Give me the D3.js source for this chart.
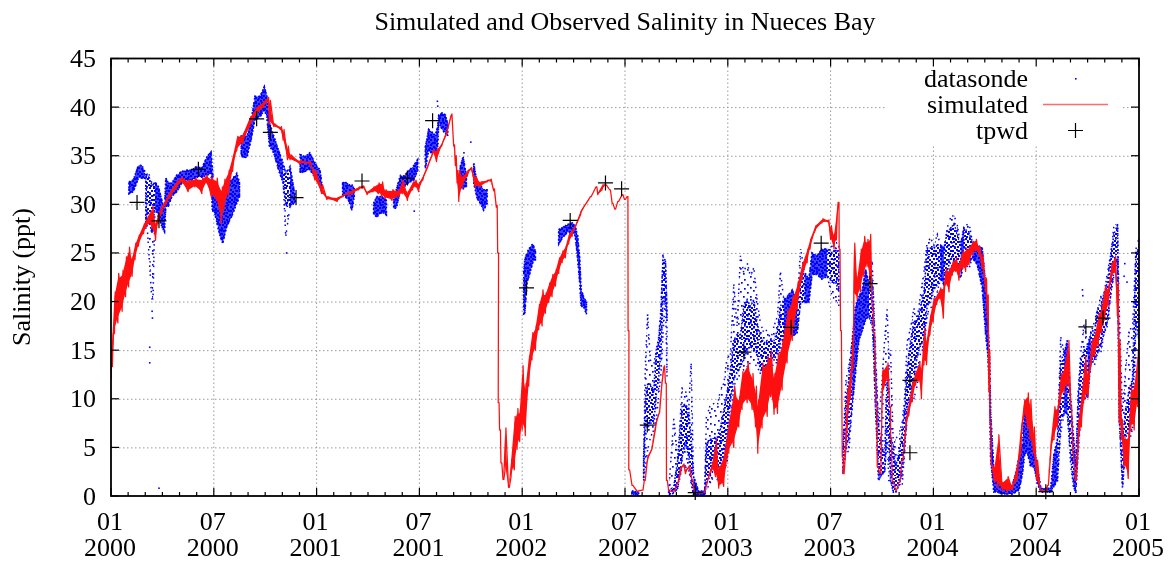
<!DOCTYPE html>
<html><head><meta charset="utf-8">
<script src="https://cdnjs.cloudflare.com/ajax/libs/d3/7.8.5/d3.min.js"></script>
<style>html,body{margin:0;padding:0;background:#fff}svg{display:block;filter:blur(0.35px)}</style>
</head><body><div id="chart"></div>
<script>
// x unit: months since 2000-01; y unit: salinity (ppt)
const chartTitle = "Simulated and Observed Salinity in Nueces Bay";
const yLabel = "Salinity (ppt)";
const yTicks = [0,5,10,15,20,25,30,35,40,45];
const xMajorMonths = [0,6,12,18,24,30,36,42,48,54,60];
const xTickMonth = ["01","07","01","07","01","07","01","07","01","07","01"];
const xTickYear = ["2000","2000","2001","2001","2002","2002","2003","2003","2004","2004","2005"];
const legendNames = ["datasonde","simulated","tpwd"];

// [month, low, high]
const simulatedRanges = [
[0,12,15],[0.08,13.3,16.7],[0.2,16.7,21],[0.4,17.8,22.9],[0.65,19,23.2],[0.85,20.5,24.6],[1.03,21.5,25.6],[1.23,22.6,24.6],[1.4,24.3,26],[1.6,25.7,26.8],[1.9,27,28],[2.2,28,29],[2.4,27.5,29.8],[2.6,26.3,28.2],[2.75,28,29],[2.95,29,29.8],[3.2,30,30.6],[3.5,30.8,31.5],[3.8,31.6,32.3],[4.1,32.3,32.8],[4.5,31.3,32.5],[4.9,31.8,32.7],[5.3,31.1,32.7],[5.55,32.2,33],[5.85,30.8,32.8],[6.15,30.4,32.7],[6.45,28,31.8],[6.6,29.5,32.6],[6.85,31,33.5],[7.1,33.4,35],[7.35,35.6,37],[7.7,36.3,37.3],[8.1,38,39],[8.5,39.2,40],[8.9,40,40.6],[9.15,40.6,41],[9.25,38.3,40.7],[9.5,38,38.3],[9.9,37.7,38],[10.05,36.6,37.7],[10.3,34.6,36],[10.45,34.6,35.1],[11,34.2,34.5],[11.6,34.2,34.4],[11.9,32.5,33.5],[12.3,31.1,32],[12.6,30.5,30.8],[13.2,30.3,30.7],[13.55,30.8,31],[14.1,31.1,31.5],[14.45,31.5,31.8],[14.7,31.7,31.9],[14.95,31,31.3],[15.3,31.3,31.8],[15.6,31.1,32.2],[15.8,30.8,32.3],[16,30.6,31.5],[16.4,30.4,31.5],[16.8,30.8,31.5],[17,31.1,32.5],[17.3,30.4,31.3],[17.6,31.5,32.3],[17.75,31.8,32.5],[17.95,31.3,32.2],[18.2,32.5,32.9],[18.5,33.9,34.2],[18.8,35.3,35.6],[19,34.4,35.6],[19.3,36,36.3],[19.6,37.3,37.7],[19.85,39.1,39.3],[20,36,36.1],[20.1,34,35],[20.2,32.2,33.5],[20.3,30.3,33.5],[20.5,31.8,32.9],[20.8,32.9,33.5],[21,33.6,33.8],[21.25,31.8,32.9],[21.55,31.8,32.3],[21.95,32.3,32.5],[22.14,32.4,32.6],[22.33,31.4,31.6],[22.49,29.7,29.9],[22.57,25,25],[22.6,9.6,9.6],[22.68,6.8,6.8],[22.76,3.4,3.4],[22.88,1.7,1.7],[23,2.7,7],[23.2,0.9,0.9],[23.35,2,3.8],[23.54,2.7,8.2],[23.7,4.8,9],[23.85,5.6,8.9],[24,6.8,13.4],[24.18,6.2,11.6],[24.38,11.3,14.4],[24.57,14,16.8],[24.77,15,17.5],[24.96,17.1,19.7],[25.16,17.5,21.2],[25.35,18.8,20.9],[25.55,19.9,21.9],[25.74,20.5,22.8],[25.94,21.6,23.3],[26.13,22.9,24.5],[26.33,24,25.2],[26.52,24.5,25.7],[26.72,26,27],[26.91,26.7,27.4],[27.1,27.6,27.9],[27.4,28.9,29.3],[27.69,30,30.1],[27.98,30.8,30.8],[28.31,31.8,31.8],[28.41,31,31.2],[28.66,31.5,32],[28.86,32,32],[29.1,31.5,31.5],[29.25,30.1,30.1],[29.4,29.5,29.5],[29.58,30.3,30.3],[29.83,31,31],[29.97,30.5,30.5],[30.12,30.8,30.8],[30.18,17,17],[30.22,2.7,2.7],[30.41,1.1,1.1],[30.7,0.5,0.5],[31,0.6,0.6],[31.13,1.6,1.6],[31.29,3.4,4],[31.52,4.6,4.8],[31.77,6.8,7.5],[31.97,8.4,8.6],[32.16,11.6,12.3],[32.26,13.2,13.4],[32.36,11.6,11.6],[32.42,1.6,1.6],[32.55,0.5,0.5],[32.85,0.5,0.5],[33.04,1.3,1.3],[33.24,2.3,3],[33.39,3.1,3.3],[33.53,2.3,2.7],[33.72,2.9,3.1],[33.92,1.6,1.6],[34.05,0.4,0.4],[34.3,0.3,0.3],[34.6,0.4,0.4],[34.89,2,2.3],[35.08,2.7,3.4],[35.28,2,5.8],[35.47,0.8,3],[35.76,1,4.4],[36.06,4.4,7.8],[36.35,5,11.3],[36.64,7.1,10.2],[36.83,8.9,12.8],[37.13,9.6,13.8],[37.42,8.9,12.6],[37.62,7.1,11.3],[37.75,4.4,9.9],[38,7,13.7],[38.3,8.2,14.4],[38.5,10.2,14.9],[38.7,8.4,12.6],[38.9,8.5,14.7],[39.17,10.9,16],[39.46,13.7,19.2],[39.76,16,20.6],[40.05,19.2,21.9],[40.34,22.3,24],[40.63,24,25.4],[40.8,25.4,26.4],[41.1,27.3,27.8],[41.5,28.1,28.5],[41.85,28.2,28.4],[42,26.4,27.8],[42.2,25.4,27],[42.34,26.4,29.1],[42.44,30.2,30.2],[42.5,25.4,25.4],[42.58,17,17],[42.68,4,4],[42.74,2.3,2.3],[42.97,7,11],[43.16,10,13],[43.3,13,17],[43.36,20.2,26],[43.55,20.2,22.6],[43.74,21,25.4],[43.94,22.6,26.7],[44.13,23.6,26.4],[44.29,22.3,26.9],[44.42,19.5,19.5],[44.52,16.8,16.8],[44.66,9.2,9.2],[44.72,3,3],[44.88,2.3,2.3],[45.01,10,13],[45.3,12,13.7],[45.45,9.2,9.2],[45.5,6,6],[45.6,1.5,1.5],[45.8,0.6,0.6],[45.99,1.4,1.4],[46.18,3.8,3.8],[46.38,6.6,8],[46.57,8.3,9.7],[46.77,9.7,11.8],[46.96,11.4,12.8],[47.16,11.8,13.8],[47.3,10,13.5],[47.45,13.5,17.3],[47.6,13.5,16.2],[47.8,16.6,18.6],[47.99,17.9,20.3],[48.19,19.7,20.7],[48.38,20.3,21.4],[48.58,18.3,21.7],[48.71,21.7,23.4],[48.91,21,23.4],[49.1,22.7,24.1],[49.3,23.1,24.5],[49.49,22.2,24],[49.69,23.4,25.2],[49.88,23.1,25.5],[50.08,23.8,25.7],[50.27,24.8,26.2],[50.46,25.2,26.4],[50.66,24.8,25.7],[50.85,23.4,24.8],[51.05,21,22.4],[51.15,18.3,20.7],[51.24,10.7,15],[51.3,7.6,7.6],[51.38,3.2,3.2],[51.57,1.4,3.2],[51.77,0.8,6.3],[52.02,0.6,1.4],[52.31,0.4,2],[52.6,0.6,1.1],[52.9,1.8,3.5],[53.1,4.4,7.1],[53.29,8.5,9.9],[53.49,7.1,10.6],[53.64,5.8,9.9],[53.84,4.4,7.1],[54.03,1.6,3.7],[54.23,0.6,0.6],[54.56,0.55,0.55],[54.66,1.1,1.1],[54.85,4.4,5.8],[55.04,5.8,9.2],[55.24,7.1,9.2],[55.43,9.9,12.6],[55.63,10.6,13.3],[55.86,11.3,16],[56.02,9.2,9.2],[56.13,4.4,4.4],[56.29,1.6,1.6],[56.45,5.1,7.8],[56.64,7.1,10.6],[56.84,9.9,14.4],[57.03,10.2,12.6],[57.23,13.7,16],[57.42,14.4,16.8],[57.62,15.4,18.8],[57.81,16.8,19.5],[58,18.1,21.6],[58.2,19.5,21.6],[58.39,22.3,24],[58.59,23,24.7],[58.74,18.5,21.9],[58.84,7.5,16],[58.98,5.8,7.8],[59.13,3,6.1],[59.37,1.8,6.5],[59.52,6.8,11.3],[59.72,6.8,11.6],[59.91,9.2,15],[60,11,15]
];

// [month, outer low, outer high, dense low, dense high]; null marks a gap in the record
const datasondeRanges = [
[1.05,31.1,32.3],[1.3,31.3,32.5],[1.6,32.7,34],[1.8,32.7,34],[1.95,32.7,33.5],null,
[2.03,27.5,33],[2.1,28,33.2,29,33],[2.2,25.3,33.2,28.7,32.8],[2.38,20.3,32.2,27,32],[2.45,20.3,32,28,32],[2.57,29.8,32.3],[2.77,28.7,31.8],[2.97,27.7,30.4],[3.12,27.2,29.4],[3.2,29.8,32.7],[3.35,29.8,32.2],[3.55,30.8,32.2],[3.84,31.3,33],[4.13,32.2,33.4],[4.42,32.5,33.5],[4.71,32.5,33.5],[5,32.8,33.9],[5.3,32.8,33.7],[5.6,33,34.9],[5.84,33.2,35.4],[5.92,29.2,33.5],[6,29.5,31.8],[6.37,26.7,29.8],[6.52,26,31.2],[6.75,27.7,32.2],[7.05,28.8,32.5],[7.34,30.1,33.2],[7.5,30.8,32.2],null,
[7.6,34.9,37],[7.93,34.8,37],[8.17,36.6,38.4],[8.4,38.7,41.1],[8.7,39,41.1],[8.95,39.7,42.1],[9.1,39,41.1],[9.25,36,38.4],[9.5,35.3,37],[9.77,33.6,35.6],[10.05,32.2,34.2],[10.2,26.7,33.2,29.8,33.2],[10.45,29.8,33.9],[10.75,30.2,30.8],null,
[11.04,33.2,35.1],[11.33,33.4,34.9],[11.6,33.6,35.3],[11.92,32.7,34.2],[12.2,32,33.5],[12.3,31.1,32.2],null,
[13.52,31,32.2],[13.67,30.8,32.3],[13.87,30.4,32],[14.06,29.4,32],[14.2,30.8,31.6],null,
[15.33,29,30.1],[15.52,28.7,30.8],[15.82,29.2,30.8],[16.07,28.9,30.4],null,
[16.5,29.6,30.4],[16.65,29.6,31.5],[16.9,31.5,33],[17.08,31.8,32.9],[17.37,32.2,33.4],[17.67,32.5,34],[17.9,33.5,34.6],null,
[18.35,33.7,35.9],[18.54,35.6,37.7],[18.68,35.3,37.5],[18.93,35.3,37.1],[19.07,36,38],[19.13,38.5,39.2],[19.32,37.7,39.4],[19.52,37.3,39.2],[19.65,37,38.3],null,
[20.39,31.8,33.9],[20.55,31.6,34.9],[20.74,31.8,33],null,
[21.17,32.2,34.2],[21.37,30.6,32.2],[21.56,30.1,32],[21.75,29.4,31.5],[21.95,30.1,31.5],null,
[24.09,18.7,23],[24.15,18.7,24.3],[24.28,21.9,25],[24.48,23.1,25.7],[24.63,24.1,25.9],[24.77,24.3,25.2],null,
[26.13,25.9,27.4],[26.33,26.5,27.6],[26.62,27.1,27.9],[26.91,27.2,28.1],[27.1,26.7,27.7],[27.24,24.3,26.7],[27.36,21.9,24.3],[27.44,19.5,21.2],[27.59,19.5,20.5],[27.75,18.7,19.9],null,
[30.4,0.2,0.5],[30.8,0.1,0.4],null,
[31.09,1.6,4],[31.19,3,13.6,7.5,10],[31.32,4.7,18.6,7,11.5],[31.48,6,14,7.5,11.5],[31.68,6.8,13.5,7.5,10.9],[31.83,7.8,15,10.5,15],[31.97,10.5,16.4,12.2,16.1],[32.1,12.6,19.4,15,18.8],[32.22,16.7,24.8,20,24.6],[32.36,20.5,24.2],[32.45,12.3,19,18,19],null,
[32.55,0.1,0.5],[32.85,0.3,8,0.3,1],[33.08,0.8,3.7],[33.33,3,11.2,4,9.2],[33.53,3,10.9,5.4,9.5],[33.72,2.7,9,4,8.8],[33.86,1.3,13.8,1.6,6],[34,0.1,2],[34.3,0.1,0.5],[34.65,0.1,0.5],[34.75,0.6,8.1,1.3,5.5],[34.95,1.3,9.2,2,5.8],[35.18,2,9.5,2.7,6],[35.38,1.7,9.2,2.7,6],[35.57,2,10.9,2.7,7],[35.77,2.7,11.6,3.4,8.9],[35.96,3.4,14.3,6,10.7],[36.15,8,14.4,10,13],[36.35,11.3,21.8,12,16],[36.54,12,17.5,12.7,16.6],[36.74,12.6,24.7,13.3,16.6],[36.93,13,23,14,19.5],[37.13,13.3,24,15,20.2],[37.32,13.7,22.6,15.4,19.5],[37.52,13.7,23.5,15,20.2],[37.71,13.3,20.2,14.7,17.8],[37.9,12.6,17.8,13,16.5],[38.1,12,16.8,12.6,15.7],[38.3,12.6,17.1,13.3,16],[38.5,13,16.1,13.7,16],[38.7,13.7,17.5,14,16],[38.9,13.7,18.5,14.7,17.1],[39.07,15,23.1,15.7,19.5],[39.27,16,20.2],[39.46,16.4,20.5],[39.76,16.4,21.2],[40.05,16.8,19.9],[40.25,19.9,25.4,20,23],[40.48,19.9,23],[40.73,19.9,22.3],[40.92,22.8,25],[41.2,22.8,24.7],[41.5,22.3,25.4],[41.8,22.6,25.4],[42.1,20.5,25.7,22,25],[42.3,20.2,26.4,22,25.5],[42.48,19.5,25.7,21,25],null,
[42.72,2.3,5],[42.9,5,12,5,10],[43.06,4.4,13.3,6,12],[43.26,9.2,16],[43.45,12.6,19.5],[43.65,16,20.5],[43.85,17,21.2],[44.04,18.1,23.3],[44.24,18.5,21.9],[44.43,17.3,24.2,18,22],[44.5,15.4,20.5],[44.6,9.9,16,10,14],[44.8,1.6,7.1],[45.01,2.3,12,2.3,5],[45.15,2.3,16,2.3,4],[45.3,5.8,19.2,7,12],[45.4,1.6,14,6,10],[45.5,1.6,15,1.6,6],[45.66,0.4,5.2],[45.8,0.4,5.9,0.4,3],[45.99,1.1,6.3,1.1,4.5],[46.18,1.1,7.6,2.4,6.5],[46.32,4.5,10,5,9],[46.47,8,15.9,9,13],[46.67,9.7,17.3,10.7,16],[46.86,10,19.3,12,18],[47.06,11.4,18.3,14.5,18],[47.25,14.8,20.7,15.5,19.5],[47.45,15.2,23.1,16,21],[47.64,18.6,26.2,19.6,25.5],[47.84,19.3,26.5,20,25.5],[48.03,19.9,25.8,21.4,25.5],[48.23,21,26.9,21.7,25.8],[48.42,22.4,25.8],[48.62,21.7,25.5],[48.81,22.7,27.6,23.4,27.2],[49,23.4,28.6,24,27.5],[49.2,23.8,28.9,24.2,28],[49.39,23.1,27.9,23.5,27],[49.59,22.4,25.8],[49.78,24.1,27.6],[50.08,23.4,28.1,24,27],[50.27,24.5,26.2],[50.56,23.8,25.8],[50.85,21.4,25.5],[51.05,16.6,21.7],[51.18,14.5,17.9],[51.28,10.4,14.2],[51.34,3.8,8.7],[51.53,0.4,2.5],[51.73,0.4,2.1],[52.02,0.2,1.1],[52.31,0.2,1.1],[52.6,0.2,1.1],[52.8,0.4,2.3],[53,0.6,4],[53.2,2.3,5.4],[53.33,4.4,9.2],[53.49,4.4,7.8],[53.68,3,6.1],[53.88,3,5],[54.07,1.3,3],[54.27,0.4,0.8],[54.85,0.4,0.8],[55.04,1,4.4],[55.24,1.6,5.8],[55.43,6.5,16.4,7.7,13.9],[55.63,8.5,14.7],[55.82,8.5,16],[56.02,3,10.2,4,9],[56.18,1,6.1],[56.31,0.3,3],[56.45,4.4,10.9,5,10],[56.6,8.2,14.7,9,14],[56.8,10,17.8,10.5,15],[57,10.2,15.4],[57.19,13.7,16.8],[57.38,13.3,17.8,14,16.5],[57.58,14.7,19.2],[57.77,14.7,20.5,15.5,19.5],[57.97,16.8,20.9],[58.16,17.5,23,18,22],[58.36,20.9,25],[58.55,22.8,28,23.3,27],[58.75,24.4,27.9],[58.84,8.3,19.4,8.3,12],[59.04,0.7,8.6,1,6],[59.23,5.2,13.4,6,9],[59.43,5.6,17.2,7,11],[59.62,6.9,17.2,8,12],[59.82,11.7,25.4,18,25],[60,9.7,26.5,16,25.5]
];

// isolated readings [month, salinity]
const datasondeOutliers = [[2.8,0.8],[2.4,19],[2.42,18.3],[2.26,15.3],[2.26,13.7],[10.25,25],[17.7,29.3],[20.6,35.3],[21,36.4],[19.05,40.6],[19.07,40.1],[31.32,18.6],[31.31,17.6],[56.7,21.2],[56.72,20.6],[59.17,23.9],[59.13,22.6],[59.3,22]];

const tpwdMonths = [1.52,2.8,5.1,8.5,9.3,10.8,14.65,17.3,18.77,24.25,26.8,28.86,29.8,31.3,34.1,36.94,39.7,41.45,44.3,46.63,46.63,54.56,56.9,57.9];
const tpwdValues = [30.2,28.3,33.6,38.8,37.4,30.7,32.4,32.7,38.6,21.4,28.35,32.2,31.6,7.3,0.35,14.8,17.35,26,21.85,4.45,11.9,0.45,17.4,18.3];

const W=1169,H=563,FONT="'Liberation Serif','Times New Roman',serif",FS=26;
const L=111,R=1139,T=58.5,B=496;
const blue="#0000ff",red="#ff1010";
const x=d3.scaleLinear().domain([0,60]).range([L,R]);
const y=d3.scaleLinear().domain([0,45]).range([B,T]);
const svg=d3.select("#chart").append("svg").attr("width",W).attr("height",H)
  .style("font-family",FONT).style("fill","#000");
svg.append("rect").attr("width",W).attr("height",H).attr("fill","#fff");

const defs=svg.append("defs");
defs.append("clipPath").attr("id","plot").append("rect").attr("x",L).attr("y",T).attr("width",R-L).attr("height",B-T);
function speckle(id,size,dots,s){
  const p=defs.append("pattern").attr("id",id).attr("patternUnits","userSpaceOnUse").attr("width",size).attr("height",size);
  p.selectAll("rect").data(dots).join("rect").attr("x",d=>d[0]).attr("y",d=>d[1]).attr("width",s).attr("height",s).attr("fill",blue);
}
speckle("sparse",23,[[2,1],[8,3],[14,0],[20,2],[5,6],[11,8],[17,5],[1,10],[8,12],[14,11],[20,9],[4,15],[11,16],[17,14],[21,17],[1,19],[7,20],[14,20],[19,21]],1.7);
speckle("dense",17,[[0,0],[3,1],[6,0],[9,2],[13,0],[1,3],[5,3],[11,4],[15,3],[3,5],[7,6],[9,6],[13,6],[0,7],[5,8],[11,8],[15,8],[2,9],[8,10],[13,10],[4,11],[6,12],[10,12],[15,12],[0,12],[2,14],[8,14],[12,14],[5,15],[14,15],[10,16],[0,16]],2);

// grid
const grid=svg.append("g").attr("stroke","#9a9a9a").attr("stroke-width",1).attr("stroke-dasharray","1.5 2.5").attr("fill","none");
grid.selectAll("line.h").data(yTicks.slice(1,-1)).join("line").attr("class","h")
  .attr("x1",L).attr("x2",R).attr("y1",d=>y(d)+.5).attr("y2",d=>y(d)+.5);
grid.selectAll("line.v").data(xMajorMonths.slice(1,-1)).join("line").attr("class","v")
  .attr("x1",d=>x(d)).attr("x2",d=>x(d)).attr("y1",T).attr("y2",B);
// key clears the grid beneath it
const keyX=d3.scaleLinear().domain([0,1]).range([887,1123]);
svg.append("rect").attr("x",keyX(0)).attr("y",T+1).attr("width",keyX(1)-keyX(0)).attr("height",86).attr("fill","#fff");

const plot=svg.append("g").attr("clip-path","url(#plot)");
// datasonde: dotted cloud between the read extents, denser in its core
const dsRows=datasondeRanges.map(r=>r&&{m:r[0],lo:r[1],hi:r[2],cl:r.length>3?r[3]:r[1],ch:r.length>3?r[4]:r[2],solid:r.length===3});
const ok=d=>d!==null;
plot.append("path").datum(dsRows)
  .attr("d",d3.area().defined(ok).x(d=>x(d.m)).y0(d=>y(d.lo)).y1(d=>y(d.hi)))
  .attr("fill","url(#sparse)").attr("stroke",blue).attr("stroke-width",1.5).attr("stroke-dasharray","1.5 3.5 1.5 6 1.5 2.5");
plot.append("path").datum(dsRows)
  .attr("d",d3.area().defined(ok).x(d=>x(d.m)).y0(d=>y(d.cl)).y1(d=>y(d.ch)))
  .attr("fill","url(#dense)").attr("stroke",blue).attr("stroke-width",1.6).attr("stroke-dasharray","1.6 1.4 1.6 2.6");
// rows with no separate core are dense all the way through
plot.append("path").datum(dsRows)
  .attr("d",d3.area().defined(d=>d!==null&&d.solid).x(d=>x(d.m)).y0(d=>y(d.lo)).y1(d=>y(d.hi)))
  .attr("fill",blue).attr("fill-opacity",.75);
plot.selectAll("rect.o").data(datasondeOutliers).join("rect").attr("class","o")
  .attr("x",d=>x(d[0])-.8).attr("y",d=>y(d[1])-.8).attr("width",1.6).attr("height",1.6).attr("fill",blue);

// simulated: solid body and a saw-tooth out to each read extreme
plot.append("path").datum(simulatedRanges)
  .attr("d",d3.area().x(d=>x(d[0])).y0(d=>y(d[1]+.12*(d[2]-d[1]))).y1(d=>y(d[2]-.12*(d[2]-d[1]))))
  .attr("fill",red);
const sawRows=simulatedRanges.flatMap(d=>[[d[0],d[1]],[d[0]+.05,d[2]]]);
plot.append("path").datum(sawRows)
  .attr("d",d3.line().x(d=>x(d[0])).y(d=>y(d[1])))
  .attr("fill","none").attr("stroke",red).attr("stroke-width",1.25).attr("stroke-linejoin","round");

// tpwd crosses
const cross=svg.append("g").attr("stroke","#000").attr("stroke-width",1.2).attr("fill","none");
const crossPath=(cx,cy)=>`M${cx-7.5},${cy}H${cx+7.5}M${cx},${cy-7.5}V${cy+7.5}`;
cross.selectAll("path").data(tpwdMonths).join("path")
  .attr("d",(d,i)=>crossPath(x(d),y(tpwdValues[i])));

// frame + ticks
const frame=svg.append("g").attr("stroke","#000").attr("fill","none");
frame.append("rect").attr("x",L).attr("y",T).attr("width",R-L).attr("height",B-T).attr("stroke-width",1.8);
const ticks=frame.append("g").attr("stroke-width",1.2);
d3.range(0,61).forEach(m=>{
  const len=m%6===0?8:4;
  ticks.append("line").attr("x1",x(m)).attr("x2",x(m)).attr("y1",B).attr("y2",B-len);
  ticks.append("line").attr("x1",x(m)).attr("x2",x(m)).attr("y1",T).attr("y2",T+len);
});
yTicks.forEach(v=>{
  ticks.append("line").attr("x1",L).attr("x2",L+8).attr("y1",y(v)).attr("y2",y(v));
  ticks.append("line").attr("x1",R).attr("x2",R-8).attr("y1",y(v)).attr("y2",y(v));
});

// text
const text=svg.append("g").attr("font-size",FS).attr("fill","#000");
text.selectAll("text.y").data(yTicks).join("text").attr("class","y")
  .attr("x",96).attr("y",d=>y(d)+8.5).attr("text-anchor","end").text(d=>d);
const xLab=text.selectAll("text.m").data(xMajorMonths).join("text").attr("class","m")
  .attr("x",d=>x(d)-1).attr("y",530).attr("text-anchor","middle");
xLab.append("tspan").attr("x",d=>x(d)-1).text((d,i)=>xTickMonth[i]);
xLab.append("tspan").attr("x",d=>x(d)-1).attr("dy",26).text((d,i)=>xTickYear[i]);
text.append("text").attr("x",625).attr("y",30).attr("text-anchor","middle").text(chartTitle);
text.append("text").attr("transform","translate(30,277) rotate(-90)").attr("text-anchor","middle").text(yLabel);

// key
const keyY=[87,113,139];
text.selectAll("text.k").data(legendNames).join("text").attr("class","k")
  .attr("x",1028).attr("y",(d,i)=>keyY[i]).attr("text-anchor","end").text(d=>d);
svg.append("rect").attr("x",1075).attr("y",78).attr("width",1.6).attr("height",1.6).attr("fill",blue);
svg.append("line").attr("x1",1043).attr("x2",1108).attr("y1",104.5).attr("y2",104.5).attr("stroke","#ff6a6a").attr("stroke-width",1.4);
svg.append("path").attr("d",crossPath(1075.5,130.5)).attr("stroke","#000").attr("stroke-width",1.2).attr("fill","none");
</script></body></html>
